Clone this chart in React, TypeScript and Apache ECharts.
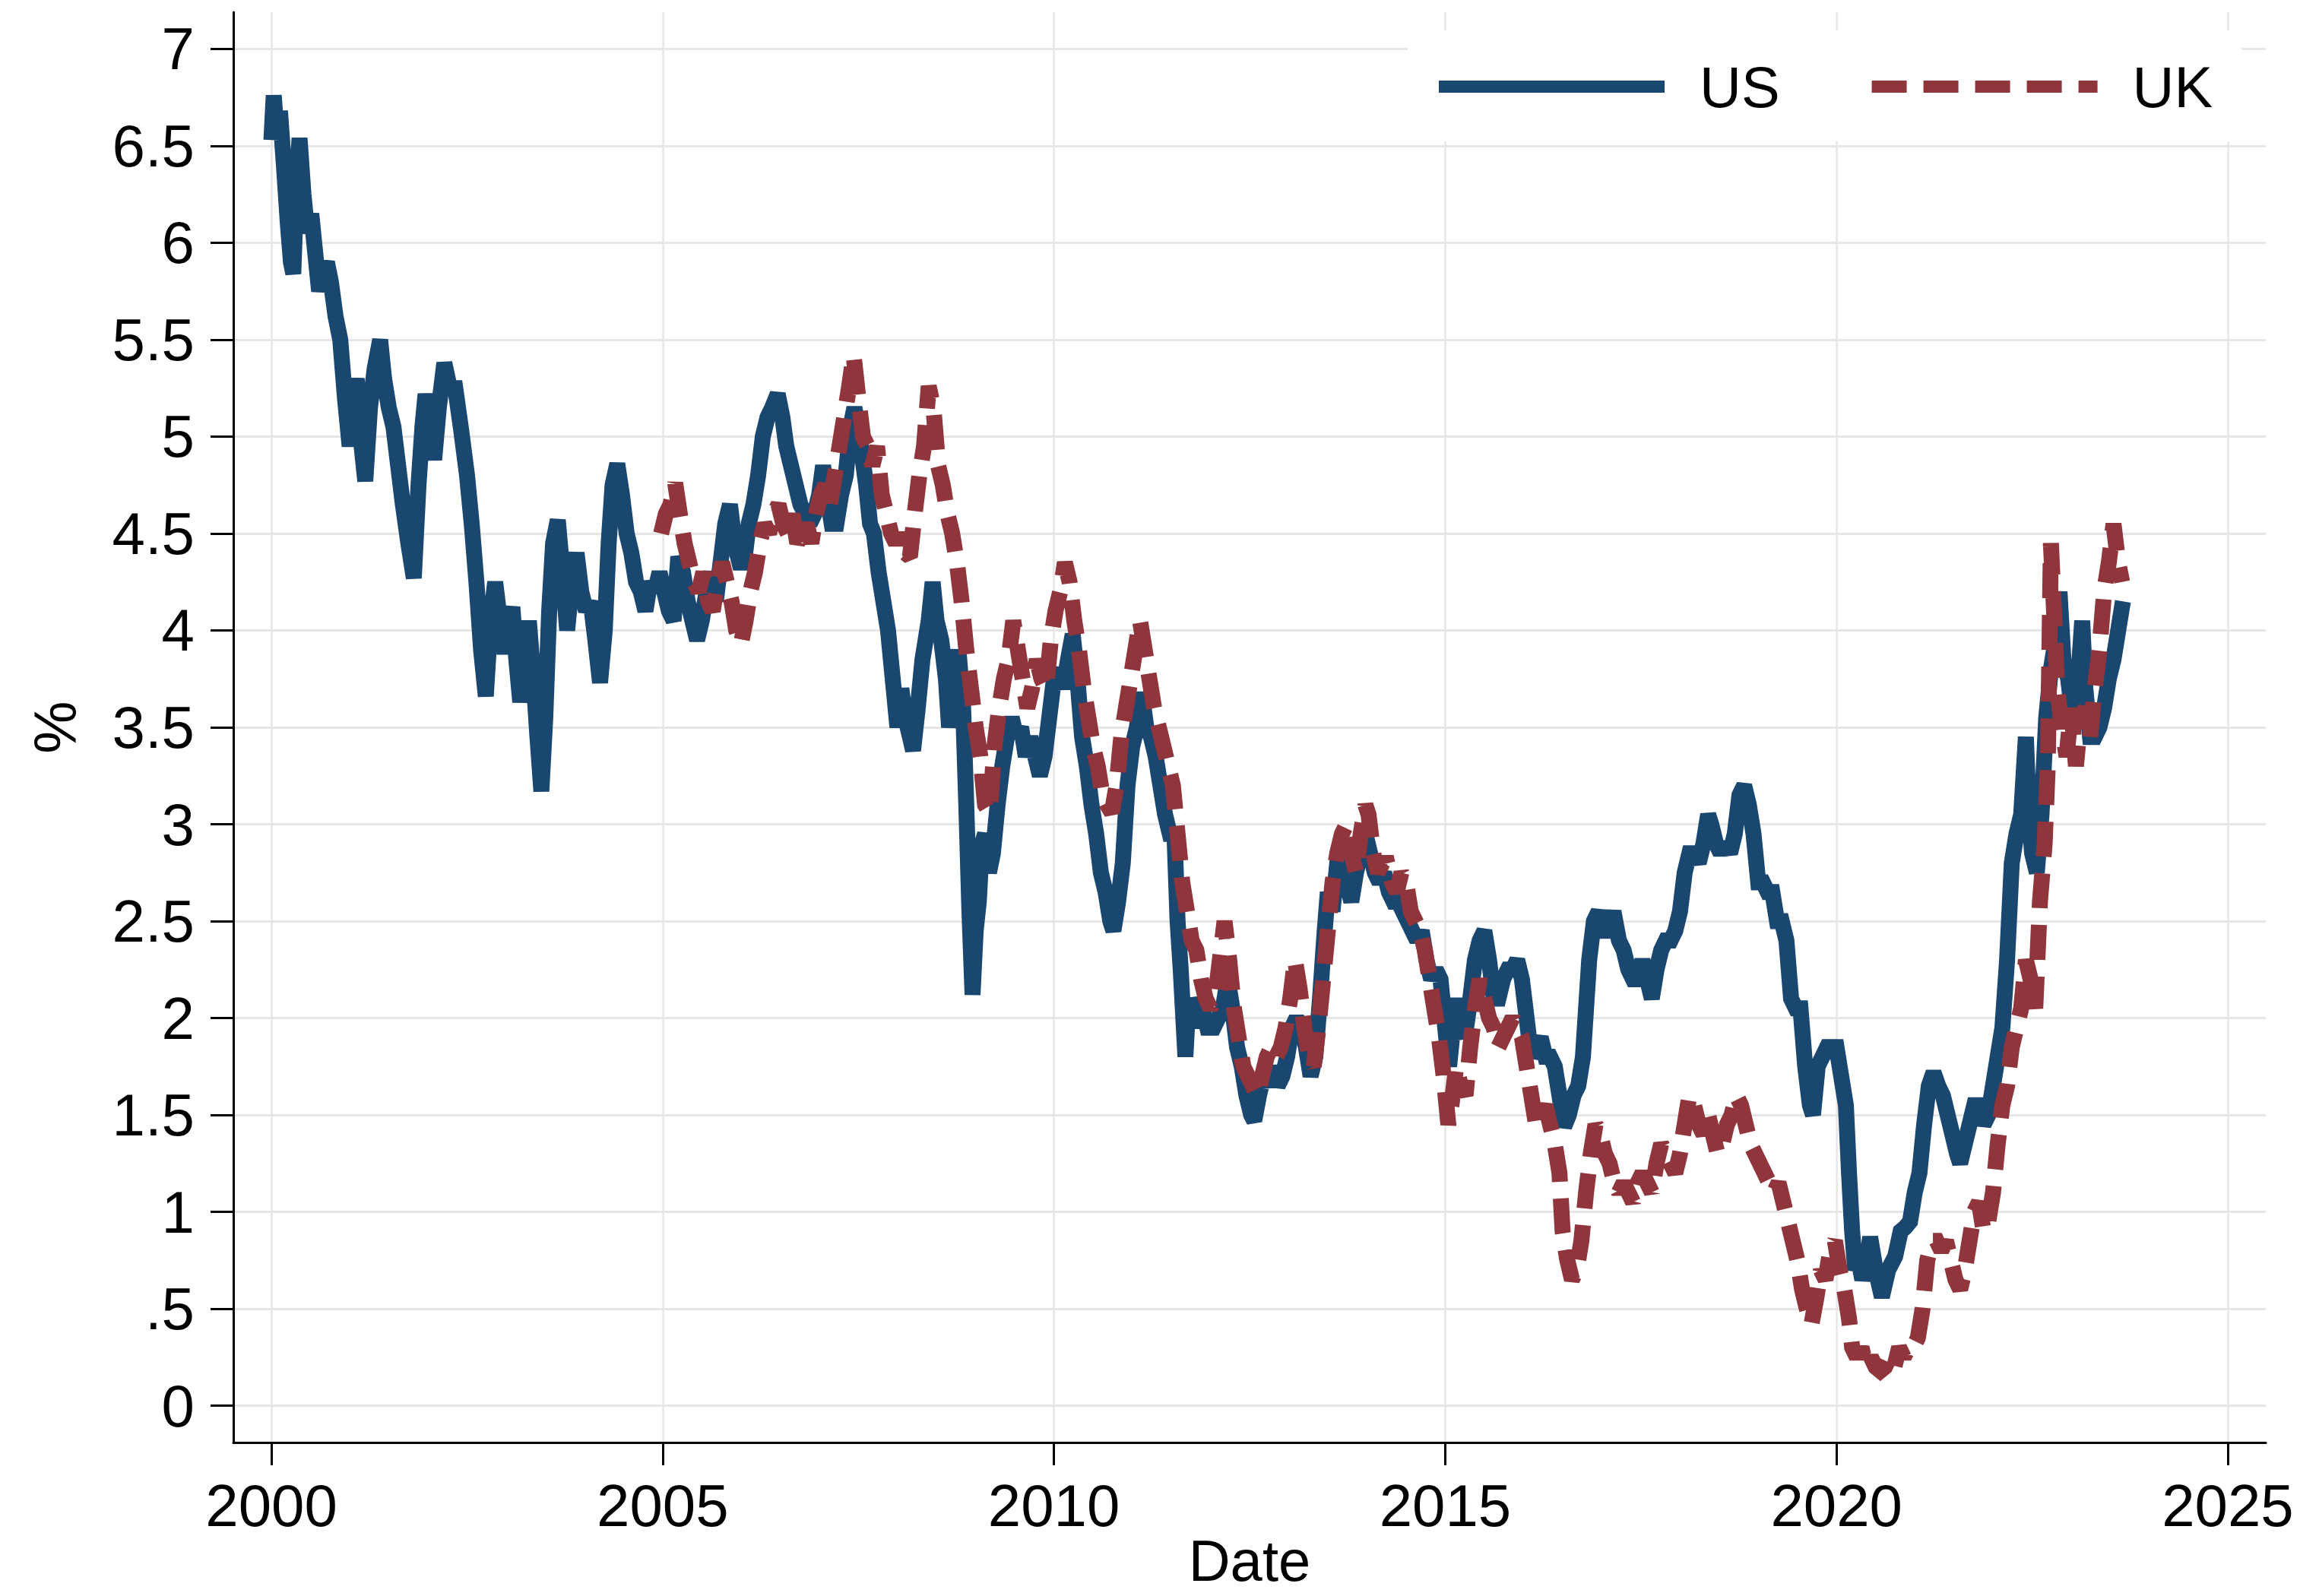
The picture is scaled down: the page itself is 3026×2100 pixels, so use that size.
import React, { useEffect, useRef } from 'react';
import * as echarts from 'echarts';

// ---------- axis ticks ----------
const X_TICKS = [2000, 2005, 2010, 2015, 2020, 2025];
const Y_TICKS = [0, 0.5, 1, 1.5, 2, 2.5, 3, 3.5, 4, 4.5, 5, 5.5, 6, 6.5, 7];

// ---------- series: [decimal year, yield %] ----------
const US_POINTS: [number, number][] = [
  [2000.00, 6.53], [2000.03, 6.76], [2000.07, 6.55], [2000.11, 6.68], [2000.16, 6.4], [2000.21, 6.1],
  [2000.25, 5.9], [2000.28, 5.84], [2000.32, 6.3], [2000.36, 6.54], [2000.41, 6.25], [2000.46, 6.05],
  [2000.51, 6.15], [2000.56, 5.95], [2000.61, 5.75], [2000.66, 5.85], [2000.71, 5.9], [2000.76, 5.8],
  [2000.82, 5.62], [2000.88, 5.5], [2000.94, 5.2], [2001.00, 4.95], [2001.05, 5.15], [2001.09, 5.3],
  [2001.14, 5.0], [2001.20, 4.77], [2001.26, 5.15], [2001.32, 5.35], [2001.39, 5.5], [2001.44, 5.3],
  [2001.50, 5.15], [2001.56, 5.05], [2001.62, 4.85], [2001.68, 4.65], [2001.75, 4.45], [2001.82, 4.27],
  [2001.88, 4.75], [2001.93, 5.05], [2001.97, 5.22], [2002.03, 5.05], [2002.08, 4.88], [2002.14, 5.15],
  [2002.21, 5.38], [2002.28, 5.25], [2002.35, 5.25], [2002.42, 5.05], [2002.50, 4.8], [2002.56, 4.55],
  [2002.62, 4.25], [2002.68, 3.9], [2002.74, 3.66], [2002.80, 4.05], [2002.86, 4.25], [2002.92, 4.05],
  [2002.98, 3.88], [2003.04, 4.05], [2003.08, 4.12], [2003.13, 3.85], [2003.18, 3.63], [2003.24, 3.85],
  [2003.29, 4.05], [2003.35, 3.75], [2003.40, 3.45], [2003.45, 3.17], [2003.50, 3.55], [2003.55, 4.1],
  [2003.60, 4.45], [2003.66, 4.57], [2003.72, 4.3], [2003.78, 4.0], [2003.84, 4.25], [2003.90, 4.4],
  [2003.96, 4.2], [2004.02, 4.1], [2004.08, 4.15], [2004.14, 3.95], [2004.20, 3.73], [2004.26, 4.0],
  [2004.31, 4.45], [2004.36, 4.75], [2004.42, 4.86], [2004.48, 4.7], [2004.54, 4.5], [2004.60, 4.4],
  [2004.66, 4.25], [2004.72, 4.2], [2004.78, 4.1], [2004.84, 4.25], [2004.90, 4.2], [2004.96, 4.3],
  [2005.02, 4.2], [2005.08, 4.1], [2005.14, 4.05], [2005.20, 4.38], [2005.26, 4.3], [2005.32, 4.15],
  [2005.38, 4.05], [2005.44, 3.95], [2005.50, 4.05], [2005.56, 4.2], [2005.62, 4.3], [2005.68, 4.15],
  [2005.74, 4.35], [2005.80, 4.55], [2005.86, 4.65], [2005.92, 4.45], [2005.98, 4.35], [2006.04, 4.35],
  [2006.10, 4.55], [2006.16, 4.65], [2006.22, 4.8], [2006.28, 5.0], [2006.34, 5.1], [2006.40, 5.15],
  [2006.47, 5.22], [2006.53, 5.1], [2006.58, 4.95], [2006.64, 4.85], [2006.70, 4.75], [2006.76, 4.65],
  [2006.82, 4.6], [2006.88, 4.55], [2006.94, 4.6], [2007.00, 4.7], [2007.05, 4.85], [2007.10, 4.7],
  [2007.16, 4.55], [2007.22, 4.55], [2007.28, 4.7], [2007.34, 4.8], [2007.40, 5.05], [2007.45, 5.15],
  [2007.50, 5.05], [2007.55, 4.9], [2007.60, 4.75], [2007.65, 4.55], [2007.70, 4.5], [2007.76, 4.3],
  [2007.82, 4.15], [2007.88, 4.0], [2007.94, 3.75], [2008.00, 3.5], [2008.05, 3.7], [2008.10, 3.55],
  [2008.16, 3.45], [2008.20, 3.38], [2008.26, 3.6], [2008.32, 3.85], [2008.40, 4.05], [2008.45, 4.25],
  [2008.50, 4.05], [2008.56, 3.95], [2008.62, 3.75], [2008.66, 3.5], [2008.72, 3.7], [2008.78, 3.9],
  [2008.84, 3.6], [2008.88, 3.1], [2008.92, 2.55], [2008.96, 2.12], [2009.00, 2.45], [2009.04, 2.6],
  [2009.08, 2.9], [2009.12, 2.95], [2009.17, 2.75], [2009.22, 2.85], [2009.28, 3.1], [2009.34, 3.3],
  [2009.40, 3.45], [2009.46, 3.55], [2009.52, 3.45], [2009.58, 3.5], [2009.64, 3.35], [2009.70, 3.45],
  [2009.76, 3.35], [2009.82, 3.25], [2009.88, 3.35], [2009.94, 3.55], [2010.00, 3.75], [2010.06, 3.8],
  [2010.12, 3.7], [2010.18, 3.85], [2010.24, 3.98], [2010.30, 3.75], [2010.36, 3.45], [2010.42, 3.3],
  [2010.48, 3.1], [2010.54, 2.95], [2010.60, 2.75], [2010.66, 2.65], [2010.72, 2.5], [2010.76, 2.45],
  [2010.82, 2.6], [2010.88, 2.8], [2010.94, 3.2], [2011.00, 3.4], [2011.06, 3.5], [2011.12, 3.68],
  [2011.18, 3.5], [2011.24, 3.45], [2011.30, 3.35], [2011.36, 3.2], [2011.42, 3.05], [2011.48, 2.95],
  [2011.54, 2.95], [2011.58, 2.5], [2011.62, 2.25], [2011.68, 1.8], [2011.72, 2.1], [2011.78, 1.95],
  [2011.84, 2.1], [2011.90, 2.05], [2011.96, 1.95], [2012.04, 1.95], [2012.10, 2.0], [2012.16, 2.05],
  [2012.22, 2.2], [2012.28, 2.05], [2012.34, 1.85], [2012.40, 1.75], [2012.46, 1.6], [2012.52, 1.5],
  [2012.56, 1.47], [2012.62, 1.6], [2012.68, 1.7], [2012.74, 1.65], [2012.80, 1.75], [2012.86, 1.65],
  [2012.92, 1.7], [2012.98, 1.8], [2013.04, 1.95], [2013.10, 2.0], [2013.16, 1.95], [2013.22, 1.85],
  [2013.28, 1.7], [2013.34, 1.8], [2013.40, 2.1], [2013.46, 2.45], [2013.50, 2.65], [2013.56, 2.55],
  [2013.62, 2.8], [2013.68, 2.9], [2013.74, 2.7], [2013.80, 2.6], [2013.86, 2.75], [2013.92, 2.85],
  [2013.98, 2.95], [2014.04, 2.85], [2014.10, 2.75], [2014.16, 2.7], [2014.22, 2.75], [2014.28, 2.65],
  [2014.34, 2.6], [2014.40, 2.6], [2014.46, 2.55], [2014.52, 2.5], [2014.58, 2.45], [2014.64, 2.4],
  [2014.70, 2.45], [2014.76, 2.3], [2014.82, 2.2], [2014.88, 2.25], [2014.94, 2.2], [2015.00, 1.95],
  [2015.05, 1.75], [2015.10, 1.95], [2015.15, 2.1], [2015.20, 1.95], [2015.25, 1.9], [2015.32, 2.1],
  [2015.38, 2.3], [2015.44, 2.4], [2015.50, 2.45], [2015.56, 2.3], [2015.62, 2.1], [2015.68, 2.1],
  [2015.74, 2.2], [2015.80, 2.25], [2015.86, 2.25], [2015.92, 2.3], [2015.98, 2.2], [2016.04, 2.0],
  [2016.10, 1.8], [2016.16, 1.85], [2016.22, 1.9], [2016.28, 1.8], [2016.34, 1.8], [2016.40, 1.75],
  [2016.46, 1.6], [2016.52, 1.44], [2016.58, 1.5], [2016.64, 1.6], [2016.70, 1.65], [2016.76, 1.8],
  [2016.84, 2.3], [2016.90, 2.5], [2016.96, 2.55], [2017.02, 2.45], [2017.08, 2.45], [2017.15, 2.55],
  [2017.22, 2.4], [2017.28, 2.35], [2017.34, 2.25], [2017.40, 2.2], [2017.46, 2.2], [2017.52, 2.3],
  [2017.58, 2.2], [2017.64, 2.1], [2017.70, 2.25], [2017.76, 2.35], [2017.82, 2.4], [2017.88, 2.4],
  [2017.94, 2.45], [2018.00, 2.55], [2018.06, 2.75], [2018.12, 2.85], [2018.18, 2.85], [2018.24, 2.8],
  [2018.30, 2.9], [2018.36, 3.05], [2018.40, 3.0], [2018.46, 2.9], [2018.52, 2.85], [2018.58, 2.9],
  [2018.64, 2.85], [2018.70, 2.95], [2018.76, 3.15], [2018.82, 3.2], [2018.88, 3.1], [2018.94, 2.95],
  [2019.00, 2.7], [2019.06, 2.7], [2019.12, 2.65], [2019.18, 2.65], [2019.24, 2.5], [2019.30, 2.5],
  [2019.36, 2.4], [2019.42, 2.1], [2019.48, 2.05], [2019.54, 2.05], [2019.60, 1.75], [2019.66, 1.55],
  [2019.70, 1.5], [2019.76, 1.75], [2019.82, 1.8], [2019.88, 1.85], [2019.94, 1.85], [2020.00, 1.85],
  [2020.06, 1.7], [2020.12, 1.55], [2020.16, 1.2], [2020.20, 0.9], [2020.24, 0.7], [2020.28, 0.75],
  [2020.33, 0.65], [2020.38, 0.72], [2020.43, 0.87], [2020.50, 0.7], [2020.58, 0.56], [2020.66, 0.7],
  [2020.75, 0.77], [2020.82, 0.9], [2020.88, 0.92], [2020.94, 0.95], [2021.00, 1.1], [2021.06, 1.2],
  [2021.12, 1.45], [2021.18, 1.65], [2021.24, 1.72], [2021.30, 1.65], [2021.36, 1.6], [2021.42, 1.5],
  [2021.48, 1.4], [2021.54, 1.3], [2021.58, 1.25], [2021.64, 1.35], [2021.70, 1.45], [2021.76, 1.55],
  [2021.82, 1.55], [2021.88, 1.45], [2021.94, 1.5], [2022.00, 1.65], [2022.06, 1.8], [2022.12, 1.95],
  [2022.18, 2.3], [2022.24, 2.8], [2022.30, 2.95], [2022.36, 3.05], [2022.42, 3.45], [2022.46, 3.05],
  [2022.50, 2.85], [2022.56, 2.75], [2022.62, 3.05], [2022.68, 3.55], [2022.74, 3.8], [2022.80, 3.95],
  [2022.85, 4.2], [2022.90, 3.85], [2022.96, 3.75], [2023.02, 3.55], [2023.08, 3.7], [2023.14, 4.05],
  [2023.18, 3.7], [2023.24, 3.45], [2023.30, 3.45], [2023.36, 3.5], [2023.42, 3.6], [2023.48, 3.75],
  [2023.54, 3.85], [2023.60, 4.0], [2023.66, 4.15],
];

const UK_POINTS: [number, number][] = [
  [2004.98, 4.5], [2005.04, 4.6], [2005.10, 4.65], [2005.16, 4.76], [2005.22, 4.6], [2005.28, 4.45],
  [2005.34, 4.35], [2005.40, 4.25], [2005.46, 4.2], [2005.52, 4.3], [2005.58, 4.15], [2005.64, 4.1],
  [2005.70, 4.25], [2005.76, 4.35], [2005.82, 4.25], [2005.88, 4.15], [2005.94, 4.0], [2006.00, 3.93],
  [2006.06, 4.05], [2006.12, 4.2], [2006.18, 4.3], [2006.24, 4.45], [2006.30, 4.55], [2006.36, 4.5],
  [2006.42, 4.6], [2006.48, 4.65], [2006.54, 4.55], [2006.60, 4.5], [2006.66, 4.6], [2006.72, 4.45],
  [2006.78, 4.5], [2006.84, 4.55], [2006.90, 4.45], [2006.96, 4.6], [2007.02, 4.7], [2007.08, 4.75],
  [2007.14, 4.65], [2007.20, 4.8], [2007.26, 4.95], [2007.32, 5.1], [2007.38, 5.25], [2007.44, 5.42],
  [2007.50, 5.2], [2007.56, 5.0], [2007.62, 4.95], [2007.68, 4.85], [2007.74, 4.95], [2007.80, 4.7],
  [2007.86, 4.6], [2007.92, 4.5], [2007.98, 4.45], [2008.04, 4.5], [2008.10, 4.4], [2008.16, 4.38],
  [2008.22, 4.6], [2008.28, 4.8], [2008.34, 4.95], [2008.40, 5.26], [2008.46, 5.15], [2008.52, 4.85],
  [2008.58, 4.75], [2008.64, 4.6], [2008.70, 4.5], [2008.76, 4.35], [2008.82, 4.15], [2008.88, 3.9],
  [2008.94, 3.7], [2009.00, 3.5], [2009.06, 3.35], [2009.12, 3.1], [2009.18, 3.06], [2009.24, 3.4],
  [2009.30, 3.6], [2009.36, 3.75], [2009.42, 3.85], [2009.48, 4.05], [2009.54, 3.9], [2009.60, 3.75],
  [2009.66, 3.6], [2009.72, 3.7], [2009.78, 3.85], [2009.84, 3.75], [2009.90, 3.7], [2009.96, 3.95],
  [2010.02, 4.1], [2010.08, 4.2], [2010.14, 4.35], [2010.20, 4.25], [2010.26, 4.05], [2010.32, 3.9],
  [2010.38, 3.7], [2010.44, 3.55], [2010.50, 3.4], [2010.56, 3.3], [2010.62, 3.15], [2010.68, 3.1],
  [2010.74, 3.06], [2010.80, 3.2], [2010.86, 3.45], [2010.92, 3.6], [2010.98, 3.75], [2011.04, 3.9],
  [2011.10, 4.05], [2011.16, 3.9], [2011.22, 3.75], [2011.28, 3.6], [2011.34, 3.5], [2011.40, 3.4],
  [2011.46, 3.3], [2011.52, 3.2], [2011.58, 2.95], [2011.64, 2.7], [2011.70, 2.55], [2011.76, 2.4],
  [2011.82, 2.35], [2011.88, 2.2], [2011.94, 2.1], [2012.00, 2.05], [2012.06, 2.1], [2012.12, 2.3],
  [2012.18, 2.5], [2012.24, 2.3], [2012.30, 2.05], [2012.36, 1.9], [2012.42, 1.75], [2012.48, 1.7],
  [2012.54, 1.65], [2012.60, 1.6], [2012.66, 1.7], [2012.72, 1.8], [2012.78, 1.85], [2012.84, 1.8],
  [2012.90, 1.85], [2012.96, 1.95], [2013.02, 2.1], [2013.08, 2.3], [2013.14, 2.15], [2013.20, 1.95],
  [2013.26, 1.8], [2013.32, 1.75], [2013.38, 1.95], [2013.44, 2.2], [2013.50, 2.45], [2013.56, 2.7],
  [2013.62, 2.85], [2013.68, 2.95], [2013.74, 3.0], [2013.80, 2.85], [2013.86, 2.75], [2013.92, 2.95],
  [2013.98, 3.1], [2014.02, 3.05], [2014.08, 2.85], [2014.14, 2.75], [2014.20, 2.8], [2014.26, 2.8],
  [2014.32, 2.7], [2014.38, 2.65], [2014.44, 2.75], [2014.50, 2.7], [2014.56, 2.55], [2014.62, 2.5],
  [2014.68, 2.45], [2014.74, 2.35], [2014.80, 2.2], [2014.86, 2.05], [2014.92, 1.9], [2014.98, 1.7],
  [2015.04, 1.45], [2015.08, 1.55], [2015.14, 1.75], [2015.20, 1.65], [2015.26, 1.6], [2015.32, 1.85],
  [2015.38, 2.05], [2015.44, 2.2], [2015.50, 2.1], [2015.56, 2.0], [2015.62, 1.95], [2015.68, 1.85],
  [2015.74, 1.9], [2015.80, 1.95], [2015.86, 2.0], [2015.92, 1.95], [2015.98, 1.9], [2016.04, 1.75],
  [2016.10, 1.6], [2016.16, 1.45], [2016.22, 1.5], [2016.28, 1.55], [2016.34, 1.45], [2016.40, 1.35],
  [2016.46, 1.2], [2016.50, 0.9], [2016.56, 0.75], [2016.62, 0.65], [2016.68, 0.7], [2016.74, 0.85],
  [2016.80, 1.1], [2016.86, 1.3], [2016.92, 1.45], [2016.98, 1.4], [2017.04, 1.3], [2017.10, 1.25],
  [2017.16, 1.15], [2017.22, 1.1], [2017.28, 1.15], [2017.34, 1.1], [2017.40, 1.05], [2017.46, 1.15],
  [2017.52, 1.2], [2017.58, 1.15], [2017.64, 1.1], [2017.70, 1.25], [2017.76, 1.35], [2017.82, 1.3],
  [2017.88, 1.25], [2017.94, 1.2], [2018.00, 1.3], [2018.06, 1.45], [2018.12, 1.6], [2018.18, 1.55],
  [2018.24, 1.45], [2018.30, 1.4], [2018.36, 1.5], [2018.42, 1.4], [2018.48, 1.3], [2018.54, 1.35],
  [2018.60, 1.45], [2018.66, 1.5], [2018.72, 1.6], [2018.78, 1.55], [2018.84, 1.45], [2018.90, 1.35],
  [2018.96, 1.3], [2019.02, 1.25], [2019.08, 1.2], [2019.14, 1.15], [2019.20, 1.1], [2019.26, 1.15],
  [2019.32, 1.05], [2019.38, 0.95], [2019.44, 0.85], [2019.50, 0.75], [2019.56, 0.6], [2019.62, 0.5],
  [2019.68, 0.42], [2019.74, 0.55], [2019.80, 0.7], [2019.86, 0.65], [2019.92, 0.8], [2019.98, 0.85],
  [2020.04, 0.7], [2020.10, 0.6], [2020.16, 0.45], [2020.20, 0.3], [2020.26, 0.25], [2020.32, 0.3],
  [2020.38, 0.2], [2020.44, 0.25], [2020.50, 0.2], [2020.56, 0.18], [2020.62, 0.2], [2020.68, 0.25],
  [2020.74, 0.2], [2020.80, 0.3], [2020.86, 0.25], [2020.92, 0.3], [2020.98, 0.3], [2021.04, 0.35],
  [2021.10, 0.5], [2021.16, 0.75], [2021.22, 0.85], [2021.28, 0.85], [2021.34, 0.8], [2021.40, 0.85],
  [2021.46, 0.75], [2021.52, 0.65], [2021.58, 0.6], [2021.64, 0.7], [2021.70, 0.85], [2021.76, 1.0],
  [2021.82, 1.05], [2021.88, 0.9], [2021.94, 0.95], [2022.00, 1.1], [2022.06, 1.35], [2022.12, 1.55],
  [2022.18, 1.65], [2022.24, 1.85], [2022.30, 1.95], [2022.36, 2.05], [2022.42, 2.3], [2022.48, 2.2],
  [2022.54, 2.05], [2022.60, 2.6], [2022.66, 2.9], [2022.70, 3.3], [2022.74, 4.45], [2022.78, 4.1],
  [2022.82, 3.7], [2022.88, 3.5], [2022.94, 3.35], [2023.00, 3.6], [2023.06, 3.3], [2023.12, 3.55],
  [2023.18, 3.6], [2023.24, 3.45], [2023.30, 3.7], [2023.36, 3.9], [2023.42, 4.2], [2023.48, 4.35],
  [2023.54, 4.55], [2023.60, 4.35], [2023.65, 4.25],
];

const SERIES_NAMES = ['US', 'UK'];
const US_COLOR = '#1a476f';
const UK_COLOR = '#90353b';
const FONT = '"Liberation Sans", Arial, Helvetica, sans-serif';

const fmtY = (v: number) => {
  const s = String(Math.round(v * 10) / 10);
  return s.startsWith('0.') ? s.slice(1) : s;
};

export default function App() {
  const ref = useRef<HTMLDivElement>(null);

  useEffect(() => {
    if (!ref.current) return;
    const chart = echarts.init(ref.current, null, { renderer: 'svg' });
    chart.setOption({
      animation: false,
      backgroundColor: '#ffffff',
      grid: {
        left: 307,
        top: 16,
        width: 2674,
        height: 1882,
        containLabel: false,
        outerBoundsMode: 'none',
      },
      legend: {
        data: SERIES_NAMES,
        left: 1852,
        top: 40,
        orient: 'horizontal',
        backgroundColor: '#ffffff',
        borderWidth: 0,
        padding: [36, 38, 34, 33],
        itemWidth: 297,
        itemHeight: 2,
        itemGap: 113,
        selectedMode: false,
        lineStyle: { width: 16 },
        itemStyle: { opacity: 0 },
        textStyle: {
          fontFamily: FONT,
          fontSize: 76,
          color: '#000',
          padding: [0, 0, 0, 41],
        },
      },
      xAxis: {
        type: 'value',
        min: 1999.514,
        max: 2025.486,
        name: 'Date',
        nameLocation: 'middle',
        nameGap: 125,
        nameMoveOverlap: false,
        nameTextStyle: { fontFamily: FONT, fontSize: 76, lineHeight: 60, color: '#000' },
        axisLine: { show: true, onZero: false, lineStyle: { color: '#000', width: 3 } },
        axisTick: { show: true, length: 30, customValues: X_TICKS, lineStyle: { color: '#000', width: 3 } },
        axisLabel: {
          customValues: X_TICKS,
          margin: 44,
          fontFamily: FONT,
          fontSize: 78,
          color: '#000',
          formatter: (v: number) => String(Math.round(v)),
        },
        splitLine: { show: true, lineStyle: { color: '#e6e6e6', width: 2.5 } },
      },
      yAxis: {
        type: 'value',
        min: -0.19,
        max: 7.19,
        name: '%',
        nameLocation: 'middle',
        nameRotate: 90,
        nameGap: 195,
        nameTextStyle: { fontFamily: FONT, fontSize: 78, color: '#000' },
        axisLine: { show: true, onZero: false, lineStyle: { color: '#000', width: 3 } },
        axisTick: { show: true, length: 30, customValues: Y_TICKS, lineStyle: { color: '#000', width: 3 } },
        axisLabel: {
          customValues: Y_TICKS,
          margin: 51,
          fontFamily: FONT,
          fontSize: 78,
          color: '#000',
          formatter: fmtY,
        },
        splitLine: { show: true, lineStyle: { color: '#e6e6e6', width: 3 } },
      },
      series: [
        {
          type: 'line',
          name: 'US',
          data: US_POINTS,
          symbol: 'none',
          showSymbol: false,
          silent: true,
          z: 2,
          itemStyle: { color: US_COLOR },
          lineStyle: { color: US_COLOR, width: 21, cap: 'butt', join: 'miter', miterLimit: 2 },
          emphasis: { disabled: true },
        },
        {
          type: 'line',
          name: 'UK',
          data: UK_POINTS,
          symbol: 'none',
          showSymbol: false,
          silent: true,
          z: 3,
          itemStyle: { color: UK_COLOR },
          lineStyle: { color: UK_COLOR, width: 21, type: [46, 22], cap: 'butt', join: 'miter', miterLimit: 2 },
          emphasis: { disabled: true },
        },
      ],
    });
    return () => chart.dispose();
  }, []);

  return (
    <div
      ref={ref}
      style={{ position: 'absolute', left: 0, top: 0, width: 3026, height: 2100, background: '#fff' }}
    />
  );
}
